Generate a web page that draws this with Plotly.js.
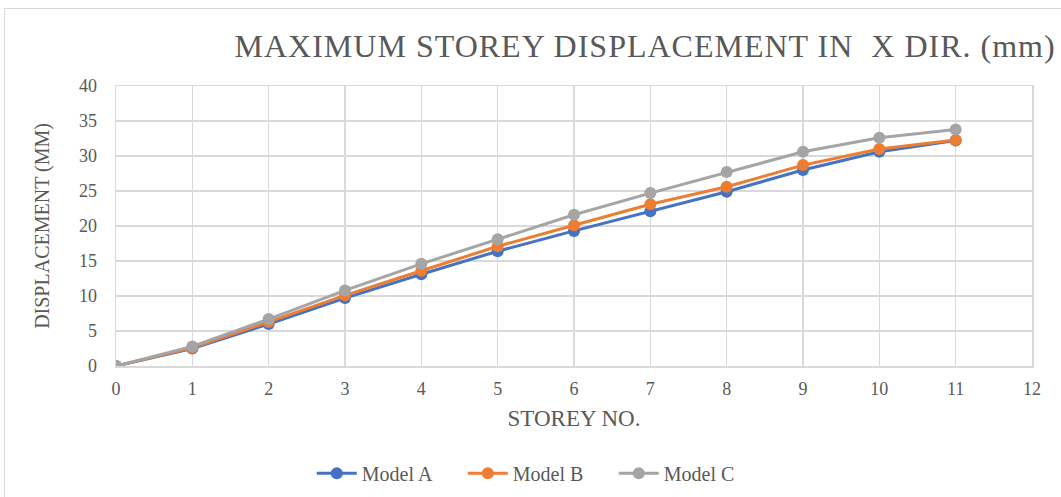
<!DOCTYPE html>
<html><head><meta charset="utf-8">
<script src="https://cdn.plot.ly/plotly-3.0.1.min.js"></script>
<style>
html,body{margin:0;padding:0;background:#fff;}
#wrap{position:relative;width:1061px;height:497px;}
#chart{width:1061px;height:497px;}
#frame{position:absolute;left:4px;top:8px;width:1070px;height:500px;border:1.5px solid #d9d9d9;pointer-events:none;}
.gtitle{letter-spacing:1px;}
</style></head><body>
<div id="wrap"><div id="chart"></div><div id="frame"></div></div>
<script>
var storey = [0,1,2,3,4,5,6,7,8,9,10,11];
var modelA = [0,2.5,6.0,9.7,13.1,16.4,19.3,22.1,24.9,28.0,30.6,32.2];
var modelB = [0,2.6,6.3,10.1,13.6,17.1,20.1,23.1,25.6,28.7,31.0,32.3];
var modelC = [0,2.8,6.7,10.8,14.6,18.1,21.6,24.7,27.7,30.6,32.6,33.8];
var names = ["Model A","Model B","Model C"];
var colors = ["#4472C4","#ED7D31","#A5A5A5"];
var series = [modelA, modelB, modelC];
var font = "Liberation Serif, Times New Roman, serif";
var traces = series.map(function(s,i){
  return {x: storey, y: s, name: names[i], type:'scatter', mode:'lines+markers',
    line:{color:colors[i], width:3}, marker:{color:colors[i], size:12}};
});
var layout = {
  width:1061, height:497,
  margin:{l:116, r:29, t:86, b:131},
  paper_bgcolor:'#fff', plot_bgcolor:'#fff',
  font:{family:font, color:'#595959'},
  title:{text:'MAXIMUM STOREY DISPLACEMENT IN  X DIR. (mm)', font:{family:font, size:32, color:'#595959'}, x:0.608, xanchor:'center', y:0.908, yanchor:'middle'},
  xaxis:{range:[0,12], dtick:1, tick0:0, showgrid:true, gridcolor:'#d9d9d9', gridwidth:1.5,
    zeroline:false, showline:true, linecolor:'#d9d9d9', linewidth:1.5, mirror:true, automargin:false,
    ticks:'', tickfont:{size:18, family:font, color:'#595959'}, ticklabelstandoff:6,
    title:{text:'STOREY NO.', font:{size:23, family:font, color:'#595959'}, standoff:12}},
  yaxis:{range:[0,40], dtick:5, tick0:0, showgrid:true, gridcolor:'#d9d9d9', gridwidth:1.5,
    zeroline:false, showline:true, linecolor:'#d9d9d9', linewidth:1.5, mirror:true, automargin:false,
    ticks:'', tickfont:{size:18, family:font, color:'#595959'}, ticklabelstandoff:14,
    title:{text:'DISPLACEMENT (MM)', font:{size:20, family:font, color:'#595959'}, standoff:24}},
  showlegend:true,
  legend:{orientation:'h', x:0.461, xanchor:'center', yref:'container', y:0.048, yanchor:'middle',
    font:{size:20, family:font, color:'#595959'}, itemwidth:40, entrywidth:96, traceorder:'normal'}
};
Plotly.newPlot('chart', traces, layout, {displayModeBar:false, staticPlot:true});
</script>
</body></html>
